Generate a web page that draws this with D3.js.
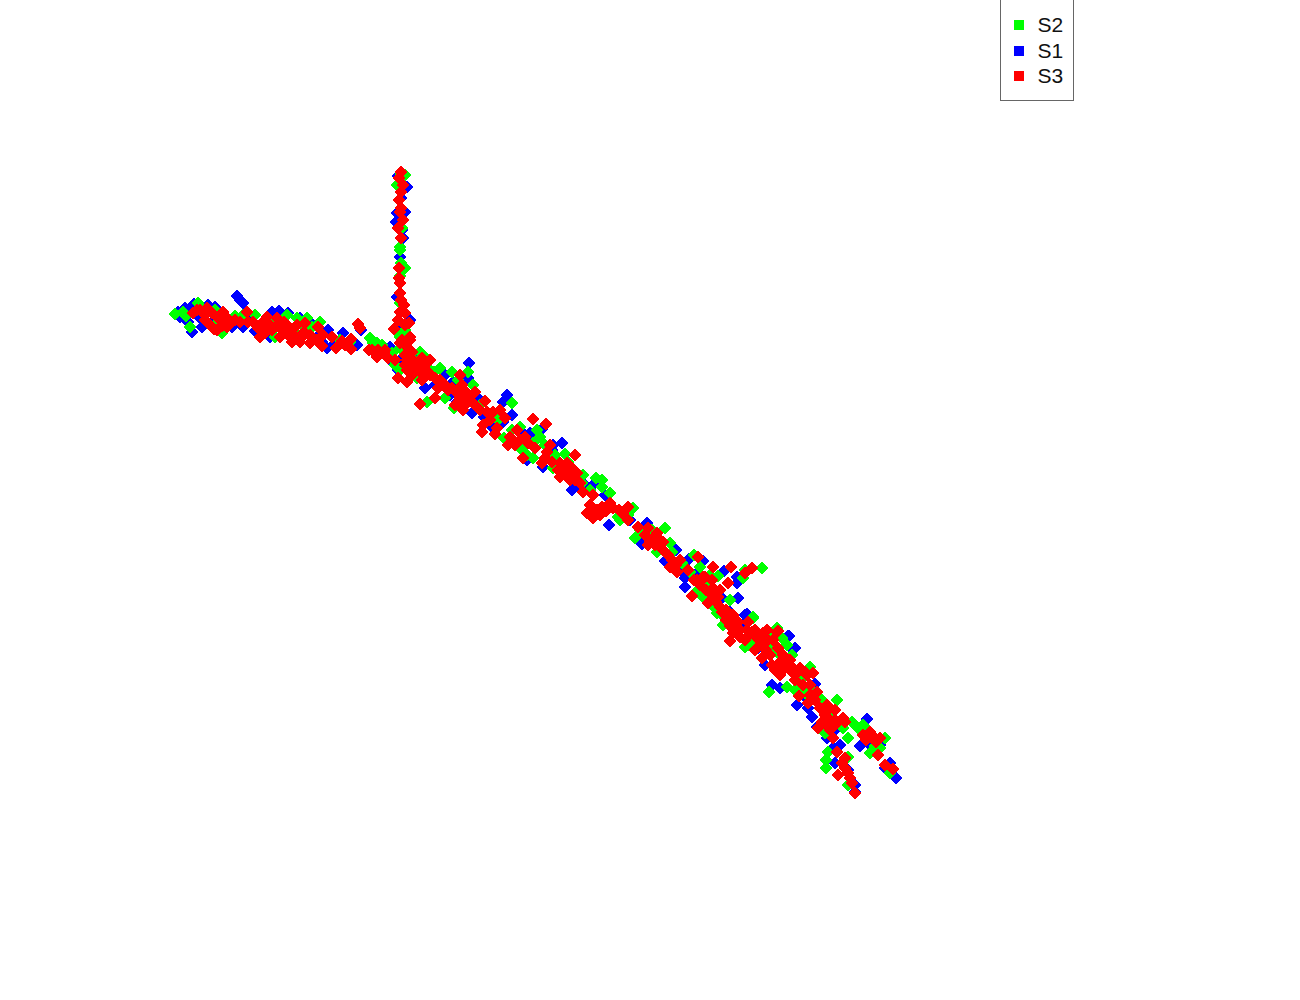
<!DOCTYPE html>
<html><head><meta charset="utf-8">
<script src="https://cdnjs.cloudflare.com/ajax/libs/d3/7.8.5/d3.min.js"></script>
<style>html,body{margin:0;padding:0;background:#fff;overflow:hidden}svg{display:block}</style>
</head><body>
<svg id="c" width="1300" height="1000"></svg>
<script>
const legendOrder = ["S2","S1","S3"];
const seriesColors = {S2:"#00ff00",S1:"#0000ff",S3:"#ff0000"};
const s1 = [[23.7,29.6],[24,30],[24.3,30.3],[19.4,30.4],[19.2,33.2],[20.2,32.7],[18.5,30.8],[18,31.7],[24.3,32.7],[25.5,33.1],[27,33.7],[27.2,31.2],[27.9,31.1],[28.8,31.3],[31.7,33.7],[32.8,33],[34.3,33.3],[35.7,34.5],[32.7,34.8],[36.1,33],[28,32.3],[21.5,30.7],[20.8,30.5],
[40.1,19.8],[39.7,21.3],[40.5,21.2],[39.6,22.2],[40.7,18.7],[39.8,17.6],[40.2,23],[40.3,23.8],[40,25.7],[39.7,29.7],[41,32],[39.8,32.7],
[46.9,36.3],[50.7,39.5],[50.3,40.2],[45.3,38.2],[42.5,38.8],[46.8,37.8],[45.7,40.2],[47.2,41.3],[50.3,42.2],[49.2,42.7],[53,43.3],[54.2,42.9],[55.3,44.5],[56.2,44.3],[55.2,45],[54.3,46.7],[59.5,48.3],[52.7,46],[40,36],[39,34.7],
[60.9,52.5],[59.5,48.3],[64.7,52.3],[64.2,54.4],[67.6,55],[68.9,55.9],[66.5,56.1],[72.4,57.1],[73.7,57.7],[73.7,58.3],[73.8,59.8],[68.5,57.8],[68.5,58.7],[74.7,61.4],[78.8,63.6],[62.7,51.3],[73.3,62.3],[57.5,48.7],[70.3,56.1],
[78.9,63.6],[77.2,68.5],[76.5,66.5],[79.3,65],[80.5,67.2],[79.7,70.5],[81.2,71.7],[81.7,72.7],[82.7,73.8],[83.3,74.8],[83.5,76.3],[86,74.6],[86.7,71.9],[89.6,77.8],[85.5,78.5],[85.5,79.2],[89,76.3],[78,68.8],[81.5,68.4],[75.8,64.8],[73.5,62.2],[74.5,61.5],[79.5,64.8],
[17.8,31.2],[18.8,32.2],[20,31.8],[21.2,32.2],[23.2,32.7],[24.8,31.8],[26.3,32.5],[26.8,33],[30,31.8],[31,32.2],[32.2,34.2],[33.5,34.3],[35,34.7],[37.5,35],[39.2,36.2],[39.8,37],[40.8,35.5],[41.5,35.8],[43.5,38.5],[44.5,37.5],[45,39.5],[46.2,39.5],[47.8,39.8],[48.4,41.7],[51.2,41.5],[52.2,43.2],[53.5,44],[54.8,45.8],[56.5,46.8],[57.2,49],[58.5,48.5],[60.5,49.5],[63,52],[65.5,53.5],[66.8,55.5],[68,57],[69.5,57.5],[70.8,59],[72.2,59.8],[73,61.2],[74.2,62.5],[75.2,64.5],[77.2,65],[77.8,67],[79,66],[80,68.8],[80.3,69.5],[80.8,70.8],[82,70],[82.5,72],[83.5,73],[84,74.5],[84.8,77],[87,74.5],[88,74.5],[88.5,76.8]];
const s2 = [[17.5,31.4],[18.3,31.2],[19,32.7],[22.2,33.3],[21.5,31],[19.8,30.3],[25.5,31.5],[28.7,31.5],[30.7,31.8],[29.3,33],[31.2,32.7],[32,32.2],[37,33.8],[37.7,34.3],[38.2,34.5],[39,35.7],[24.3,31.5],[21.7,32.3],[27.5,33.7],
[40.1,17.4],[40.5,17.5],[39.7,18.5],[40.2,22.8],[40,24.7],[40,25],[40.1,26.3],[40.5,26.8],[40,27.6],[40,30.3],[40.5,33],[40,33.7],
[40,37],[41.7,37.8],[42.7,40.2],[46.8,37.2],[45.2,37.2],[47.3,38.5],[44.5,39.8],[45.4,40.8],[51.2,40.3],[50.4,43.8],[53.3,44.3],[54,43.7],[52.7,45.5],[53.3,45.8],[56.5,45.4],[55.3,46.8],[58.3,47.5],[58.2,48.3],[42.3,35.5],[52,42.7],[39.2,35.3],[40,33.5],
[58.3,47.5],[60.2,48],[60.2,48.7],[61,49.3],[61.8,51.7],[63.3,50.8],[63.5,53.8],[66.5,52.8],[67,54.3],[65.7,55.2],[69.4,55.5],[70,56.7],[70.5,58.3],[70.3,59.7],[72.5,61.7],[71.7,61.3],[76.2,56.8],[74.5,57],[74.3,57.8],[71.8,57.6],[75.3,61.8],[77.7,62.8],[73,60],[77,63.7],[62,52],
[72.5,61.8],[75.3,61.7],[74.5,64.7],[78.7,64.5],[78.2,63.8],[77.2,63.3],[77,64.7],[79.2,65.5],[76.9,69.2],[78.7,68.7],[79.5,69],[81,66.7],[81,68.8],[83.7,70],[85.5,72.5],[86.3,72.5],[82.5,73.3],[84.8,73.8],[82.8,75.2],[82.6,76],[82.6,76.8],[84.8,75.7],[87,75.3],[87.5,74.6],[88.5,73.8],[84.8,78.5],[89,77.3],
[18.6,31.6],[20.1,30.8],[22.8,32.2],[23.5,31.6],[26.2,32.7],[26.8,32],[27.8,32.2],[29.7,31.8],[30.2,32.5],[34,34],[35,34.2],[37.3,34.3],[38.5,35],[40,34.8],[39.5,36.5],[42,35.2],[41.4,36],[42.8,36.8],[43.4,37.2],[44,36.8],[45.8,38],[46.2,39.2],[48,40.5],[49,41.5],[49.8,42],[51.2,43],[51.8,44.5],[52.2,45],[53.7,43],[54.5,44.5],[55.5,45.5],[56.8,46.2],[57.5,47.8],[59,49],[59.6,47.8],[62.8,51.5],[64,53],[65.2,53],[67.2,55.2],[68.2,56.3],[69,57.2],[69.8,59],[71,57.5],[71.2,60.5],[72.3,62.5],[73.5,62.5],[74.8,64.5],[75.5,64],[77.5,65],[78,65.5],[78.5,66.5],[79.5,67.5],[80,68],[80.5,69.3],[82.2,70],[83,71.2],[84.3,72.8],[85.2,72.2],[86,73],[86.8,73],[88,74.8]];
const s3 = [[20,31],[19.3,31.3],[20.5,31.5],[22.3,31.2],[22.3,32],[21.7,33],[22.7,32.7],[23.2,32.2],[24,32.2],[24.8,32.2],[24.7,31.2],[26,33.7],[26.3,32.2],[27,32.5],[26.7,31.7],[27.7,31.8],[28.2,33],[28.8,33.5],[30.5,32.3],[30.4,33.2],[30,34.2],[31,34.3],[31.8,32.7],[32.3,33.5],[32.2,34.6],[33.2,33.7],[33.6,34.8],[34.2,34.1],[35.1,33.9],[35.1,34.9],[35.8,32.4],[36,32.8],[36.9,35],[37.7,35.7],[38,35.2],
[40.1,17.2],[39.9,17.8],[40.3,18.5],[40.1,19.2],[40.1,20.8],[40,21.2],[40.3,22],[39.8,22.8],[40.1,23.8],[39.9,26.8],[40,28.3],[40,29.3],[40,31.2],[40.5,31.3],[40.9,32.3],[39.4,32.9],[41,33.7],
[38.5,35],[40,34.3],[41,34],[40.8,34.8],[41.2,36.3],[40.7,37],[41.7,37],[42.2,35.8],[43,36],[39.8,37.8],[40.7,38.2],[42.2,38],[43,37.5],[44,38],[46,37.5],[45.7,39.3],[44.8,39],[46.7,39.3],[47.5,39.2],[46.3,41],[43.5,39.8],[42,40.4],[48.5,40.1],[49.3,41.2],[48.3,42.5],[48.2,43.2],[49.5,43.4],[50.8,44.5],[51.5,44.5],[53.3,41.9],[54.6,42.4],[51.7,43],[52.5,43.7],[52.3,45.8],[54.2,46.3],[54.7,45.2],[56,46.3],[56.7,46.3],[57.5,45.5],[56,47.7],[57.7,47.3],[58.3,49.2],[59.3,49.5],[55,44.5],[56.5,47],
[57.5,48],[58.3,49.2],[59.3,49.5],[58.7,51.3],[59.3,51.8],[60.2,50.7],[61,50.3],[62.8,50.7],[62.8,52],[63.8,52.7],[64.8,52.8],[64.8,54.5],[65.3,53.8],[66,54],[66.3,55],[67,56.7],[67.7,57.2],[68,56],[69.8,55.7],[71.3,56.7],[73.1,56.7],[75.2,56.8],[74.5,57.3],[70.3,57.7],[69.7,58],[69.2,59.6],[71.3,58.8],[71.8,59.7],[72.8,58.3],[70.8,60.3],[72,60.7],[74,63],[75,63.3],[76.3,63.3],[77.8,63.1],[73.3,63.3],
[73.3,61.5],[73,64.1],[73.8,63],[74.7,63],[75.7,63.8],[76.7,63],[77.7,63.2],[75.5,65],[76.2,65.8],[77.2,66.5],[78,66.2],[78,67.5],[79.7,67.3],[80.7,67.5],[81.3,67.3],[79.9,69.6],[80.8,70.3],[81.7,69.2],[82.7,70.5],[83.5,71],[84.3,71.8],[82.2,72.2],[81.8,72.8],[83.3,73.8],[83.7,75.2],[84.2,76.3],[84.8,77.3],[85.2,78.3],[85.5,79.3],[83.8,77.5],[86.3,73.5],[87,73.2],[88,73.8],[87.8,75.5],[88.5,76.5],[89.3,76.9],[82.8,71],[83.5,72],[81,68.5],[79,66],
[19.7,31],[20.5,32],[21.2,31.3],[21.8,31.8],[22.5,31.6],[21,32.5],[21.4,32.9],[22.8,32.1],[23.5,32],[22.2,32.6],[20.7,30.8],[25.3,32.2],[25.8,32.8],[27.2,33],[27.7,32.5],[28.4,32.2],[29,32.8],[29.4,33.5],[29.7,32.5],[30.2,33.7],[26.5,33.3],[26.2,33],[28,33.7],[29.2,34.2],[31,33.5],[31.6,34],[34.5,34.5],[37.2,35],[37.8,35],[38.4,35.3],[38.8,35.8],
[39.9,20],[39.9,27.8],[40.1,30],[39.8,32],[40.4,30.5],[40.5,32.5],[40.2,34],
[39.5,36],[40.5,35.5],[41.2,35.2],[41.5,36.2],[40.7,36],[41,36.8],[41.8,36.5],[42,37.2],[41.2,37.5],[40.5,36.5],[42.5,36.5],[42.8,37.2],[43.5,37.8],[44.5,38.5],[45.2,38.8],[43.8,38.8],[46.2,38.5],[47,40],[46,39.8],[46.5,40.5],[45.5,40.5],[47.5,40.5],[48,41],[48.7,41.2],[50,41],[49,42],[49.7,42.8],[50.5,41.8],[51,43.7],[52,44],[52.8,44.3],[53.5,44.8],[54.5,45.8],[55.2,46.2],[55.8,47],[56.5,47],[57.2,46.8],[57,48],[58,48.3],[57.5,47.2],[56.8,47.6],
[59,50.5],[59.7,51],[60,51.5],[60.6,51.1],[61.3,50.8],[61.9,51],[62.3,51.4],[64.5,53.5],[65,54.1],[65.5,54.5],[65.7,53.3],[66.3,54.2],[66.8,55.5],[67.2,56],[67.6,56.5],[68.8,57],[69.4,58],[70,58.5],[70.6,59],[71.2,59.5],[71.6,60.2],[72.2,61.2],[72.6,62],[73,62.6],[73.5,63],[74,63.7],[74.5,64],[75.2,63.2],[75.8,63.3],[76.8,64],[77.3,64],[77.8,64.8],[76,64.5],[76.6,65],[77,65.5],[77.5,67],[78.5,66.8],[79,66.5],[79.5,68],[80.3,68.5],[81,69.5],[81.5,70],[82,70.8],[82.5,71.5],[83,72],[83.5,72.5],[82.6,72.5],[83,73],[83.8,72.2],[84.5,72.2],[80,66.8],[80.5,67.2],[79.2,67.2],[78.8,66],[78.3,65.5],[74.8,62.2],[75.5,63],[73.8,62.2],[72.6,61],[70.5,57.7],[71.2,58],[72,59],
[86.6,74],[87.2,73.5],[87.6,74.2],[84.5,75.8],[84.5,76.8],[85,77.8]];

const xScale = d3.scaleLinear().domain([0,130]).range([0,1300]);
const yScale = d3.scaleLinear().domain([0,100]).range([0,1000]);
const svg = d3.select("#c");
const diamond = d3.symbol().type(d3.symbolSquare).size(84);
const plot = svg.append("g").attr("shape-rendering","crispEdges");
[["S1",s1],["S2",s2],["S3",s3]].forEach(([name,pts])=>{
  plot.append("g").selectAll("path").data(pts).join("path")
    .attr("d",diamond)
    .attr("fill",seriesColors[name])
    .attr("transform",d=>`translate(${xScale(d[0])},${yScale(d[1])}) rotate(45)`);
});
const legend = svg.append("g");
legend.append("rect").attr("x",1000.5).attr("y",-2).attr("width",73).attr("height",102.5)
  .attr("fill","#fff").attr("stroke","#666").attr("stroke-width",1).attr("shape-rendering","crispEdges");
const rows = d3.scalePoint().domain(legendOrder).range([25,76]);
const sq = d3.symbol().type(d3.symbolSquare).size(100);
legendOrder.forEach(name=>{
  legend.append("path").attr("d",sq).attr("fill",seriesColors[name])
    .attr("transform",`translate(1019,${rows(name)})`).attr("shape-rendering","crispEdges");
  legend.append("text").attr("x",1037.5).attr("y",rows(name)+7)
    .attr("font-family","'Liberation Sans',sans-serif").attr("font-size",21).attr("fill","#111").text(name);
});
</script>
</body></html>
